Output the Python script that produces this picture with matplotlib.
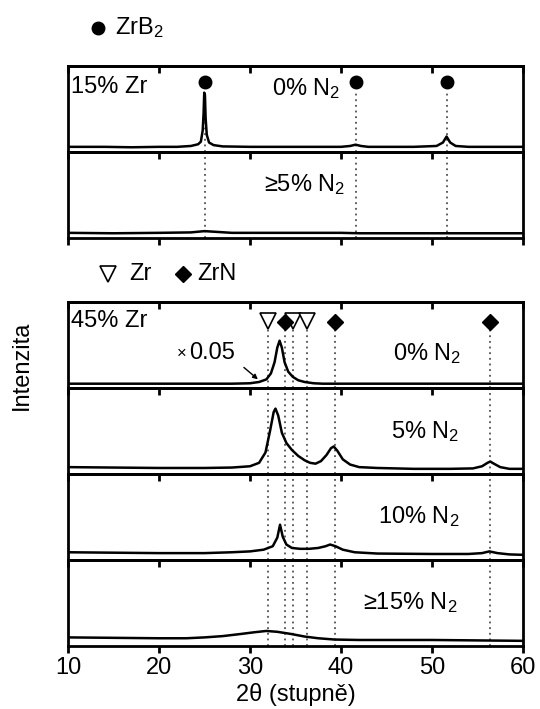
import matplotlib
matplotlib.use("Agg")
import matplotlib.pyplot as plt

plt.rcParams['font.family'] = ['Liberation Sans', 'DejaVu Sans']
plt.rcParams['mathtext.fontset'] = 'custom'
plt.rcParams['mathtext.rm'] = 'Liberation Sans'
plt.rcParams['mathtext.it'] = 'Liberation Sans'

# ---- phase reference positions (2-theta, degrees) ----
zrb2_peaks = [25.0, 41.7, 51.6]
zr_peaks = [32.0, 34.7, 36.3]
zrn_peaks = [33.9, 39.3, 56.4]

# ---- diffraction traces (2-theta, normalised intensity within panel) ----
zr15_n0_x = [10.0, 14.0, 17.0, 20.0, 22.0, 23.5, 24.3, 24.6, 24.8, 24.9, 24.97, 25.05, 25.12,
             25.25, 25.5, 26.0, 27.0, 30.0, 35.0, 40.0, 41.0, 41.6, 42.2, 43.0, 48.0, 50.5,
             51.2, 51.6, 52.0, 52.6, 54.0, 60.0]
zr15_n0_y = [0.06, 0.06, 0.055, 0.06, 0.06, 0.07, 0.09, 0.12, 0.25, 0.45, 0.69, 0.66, 0.40,
             0.20, 0.11, 0.08, 0.065, 0.06, 0.06, 0.06, 0.07, 0.085, 0.07, 0.06, 0.06, 0.07,
             0.11, 0.18, 0.11, 0.07, 0.06, 0.06]

zr15_n5_x = [10.0, 15.0, 20.0, 23.5, 25.0, 26.5, 28.0, 35.0, 40.0, 42.0, 50.0, 60.0]
zr15_n5_y = [0.06, 0.055, 0.06, 0.065, 0.08, 0.07, 0.06, 0.06, 0.06, 0.055, 0.055, 0.055]

zr45_n0_x = [10.0, 20.0, 25.0, 28.0, 30.0, 31.0, 31.8, 32.3, 32.7, 33.0, 33.25, 33.5, 33.8,
             34.2, 34.7, 35.3, 36.0, 37.0, 38.0, 45.0, 60.0]
zr45_n0_y = [0.05, 0.05, 0.05, 0.05, 0.055, 0.07, 0.10, 0.17, 0.30, 0.47, 0.55, 0.47, 0.30,
             0.19, 0.13, 0.09, 0.07, 0.055, 0.05, 0.05, 0.05]

zr45_n5_x = [10.0, 15.0, 20.0, 25.0, 28.0, 30.0, 31.0, 31.7, 32.2, 32.6, 32.8, 33.1, 33.5,
             34.0, 34.6, 35.3, 36.0, 36.6, 37.2, 37.8, 38.4, 38.9, 39.2, 39.6, 40.2, 41.0,
             42.0, 44.0, 48.0, 52.0, 54.5, 55.5, 56.1, 56.4, 56.8, 57.5, 58.5, 60.0]
zr45_n5_y = [0.08, 0.075, 0.07, 0.07, 0.075, 0.09, 0.13, 0.25, 0.50, 0.72, 0.76, 0.68, 0.48,
             0.36, 0.28, 0.21, 0.16, 0.13, 0.12, 0.15, 0.22, 0.30, 0.32, 0.27, 0.17, 0.11,
             0.08, 0.07, 0.06, 0.06, 0.065, 0.09, 0.13, 0.145, 0.12, 0.08, 0.06, 0.06]

zr45_n10_x = [10.0, 20.0, 25.0, 28.0, 30.0, 31.5, 32.5, 33.0, 33.3, 33.6, 34.0, 34.6, 35.5,
              36.5, 37.5, 38.3, 38.8, 39.4, 40.2, 41.5, 44.0, 50.0, 54.0, 55.5, 56.3, 57.2,
              58.5, 60.0]
zr45_n10_y = [0.09, 0.08, 0.08, 0.09, 0.10, 0.12, 0.16, 0.26, 0.41, 0.27, 0.18, 0.14, 0.13,
              0.13, 0.14, 0.16, 0.18, 0.16, 0.12, 0.09, 0.075, 0.07, 0.07, 0.08, 0.10, 0.08,
              0.065, 0.06]

zr45_n15_x = [10.0, 15.0, 20.0, 23.0, 25.0, 27.0, 29.0, 30.5, 31.8, 33.0, 34.5, 36.0, 37.5,
              39.3, 42.0, 50.0, 55.0, 60.0]
zr45_n15_y = [0.10, 0.095, 0.09, 0.09, 0.10, 0.115, 0.14, 0.16, 0.175, 0.165, 0.14, 0.11,
              0.09, 0.075, 0.07, 0.07, 0.065, 0.06]

xticks = [10, 20, 30, 40, 50, 60]

FS = 17
W, H = 540, 709
fig = plt.figure(figsize=(W / 100, H / 100), dpi=100)

left = 68 / W
width = (523 - 68) / W
ph = 86 / H


def make_panel(top_px, last=False, labels=False):
    ax = fig.add_axes([left, 1 - (top_px + 86) / H, width, ph])
    ax.set_xlim(10, 60)
    ax.set_ylim(0, 1)
    ax.set_yticks([])
    for s in ax.spines.values():
        s.set_linewidth(2.0)
    ax.set_xticks(xticks)
    ax.tick_params(axis='x', top=False, bottom=last, direction='out', length=5, width=2,
                   labelbottom=labels, labelsize=FS, pad=3)
    # inward ticks along the upper edge of every panel
    sec = ax.secondary_xaxis('top')
    sec.set_xticks(xticks)
    sec.tick_params(axis='x', direction='in', length=5, width=2, labeltop=False)
    sec.spines['top'].set_linewidth(2.0)
    return ax


dot_kw = dict(color='#333333', linestyle=(0, (1.2, 2.5)), linewidth=1.1, zorder=1)
trace_kw = dict(color='black', linewidth=1.8, zorder=3)

# ---- upper group: 15 % Zr ----
a1 = make_panel(66)
a2 = make_panel(152, last=True)
for p in zrb2_peaks:
    a1.axvline(p, ymin=0, ymax=0.72, **dot_kw)
    a2.axvline(p, **dot_kw)
a1.plot(zr15_n0_x, zr15_n0_y, **trace_kw)
a2.plot(zr15_n5_x, zr15_n5_y, **trace_kw)
a1.plot(zrb2_peaks, [0.81] * len(zrb2_peaks), 'o', color='black', markersize=9, zorder=4)
a1.text(10.3, 0.76, '15% Zr', fontsize=FS, va='center', ha='left')
a1.text(32.4, 0.74, r'0% N$_2$', fontsize=FS, va='center', ha='left')
a2.text(31.5, 0.62, r'≥5% N$_2$', fontsize=FS, va='center', ha='left')

# ---- lower group: 45 % Zr ----
tops = [302, 388, 474, 560]
b = [make_panel(tops[0]), make_panel(tops[1]), make_panel(tops[2]),
     make_panel(tops[3], last=True, labels=True)]
for i, ax in enumerate(b):
    for p in zr_peaks + zrn_peaks:
        if i == 0:
            ax.axvline(p, ymin=0, ymax=0.70, **dot_kw)
        else:
            ax.axvline(p, **dot_kw)

b[0].plot(zr45_n0_x, zr45_n0_y, **trace_kw)
b[1].plot(zr45_n5_x, zr45_n5_y, **trace_kw)
b[2].plot(zr45_n10_x, zr45_n10_y, **trace_kw)
b[3].plot(zr45_n15_x, zr45_n15_y, **trace_kw)

b[0].plot(zr_peaks, [0.78] * len(zr_peaks), 'v', markerfacecolor='white',
          markeredgecolor='black', markeredgewidth=1.2, markersize=11, zorder=4)
b[0].plot(zrn_peaks, [0.77] * len(zrn_peaks), 'D', color='black', markersize=8, zorder=5)

b[0].text(10.3, 0.78, '45% Zr', fontsize=FS, va='center', ha='left')
b[0].text(22.0, 0.40, '×', fontsize=12, va='center', ha='left')
b[0].text(23.3, 0.41, '0.05', fontsize=FS, va='center', ha='left')
b[0].annotate('', xy=(31.1, 0.08), xytext=(29.1, 0.26),
              arrowprops=dict(arrowstyle='-|>', color='black', lw=1.0,
                              mutation_scale=7))
b[0].text(45.7, 0.40, r'0% N$_2$', fontsize=FS, va='center', ha='left')
b[1].text(45.5, 0.49, r'5% N$_2$', fontsize=FS, va='center', ha='left')
b[2].text(44.1, 0.50, r'10% N$_2$', fontsize=FS, va='center', ha='left')
b[3].text(42.4, 0.50, r'≥15% N$_2$', fontsize=FS, va='center', ha='left')

b[3].set_xlabel('2θ (stupně)', fontsize=FS, labelpad=3)

# ---- phase keys above each group ----
fig.text(115 / W, 1 - 28 / H, r'ZrB$_2$', fontsize=FS, va='center', ha='left')
fig.add_artist(plt.Line2D([98 / W], [1 - 28 / H], marker='o', color='black',
                          markersize=9, transform=fig.transFigure))
fig.add_artist(plt.Line2D([108 / W], [1 - 274 / H], marker='v', markerfacecolor='white',
                          markeredgecolor='black', markeredgewidth=1.2, markersize=11,
                          transform=fig.transFigure))
fig.text(129 / W, 1 - 274 / H, 'Zr', fontsize=FS, va='center', ha='left')
fig.add_artist(plt.Line2D([183 / W], [1 - 274 / H], marker='D', color='black',
                          markersize=8, transform=fig.transFigure))
fig.text(197 / W, 1 - 274 / H, 'ZrN', fontsize=FS, va='center', ha='left')

fig.text(22 / W, 1 - 365 / H, 'Intenzita', fontsize=FS, rotation=90,
         va='center', ha='center')

fig.savefig('out.png', dpi=100)
